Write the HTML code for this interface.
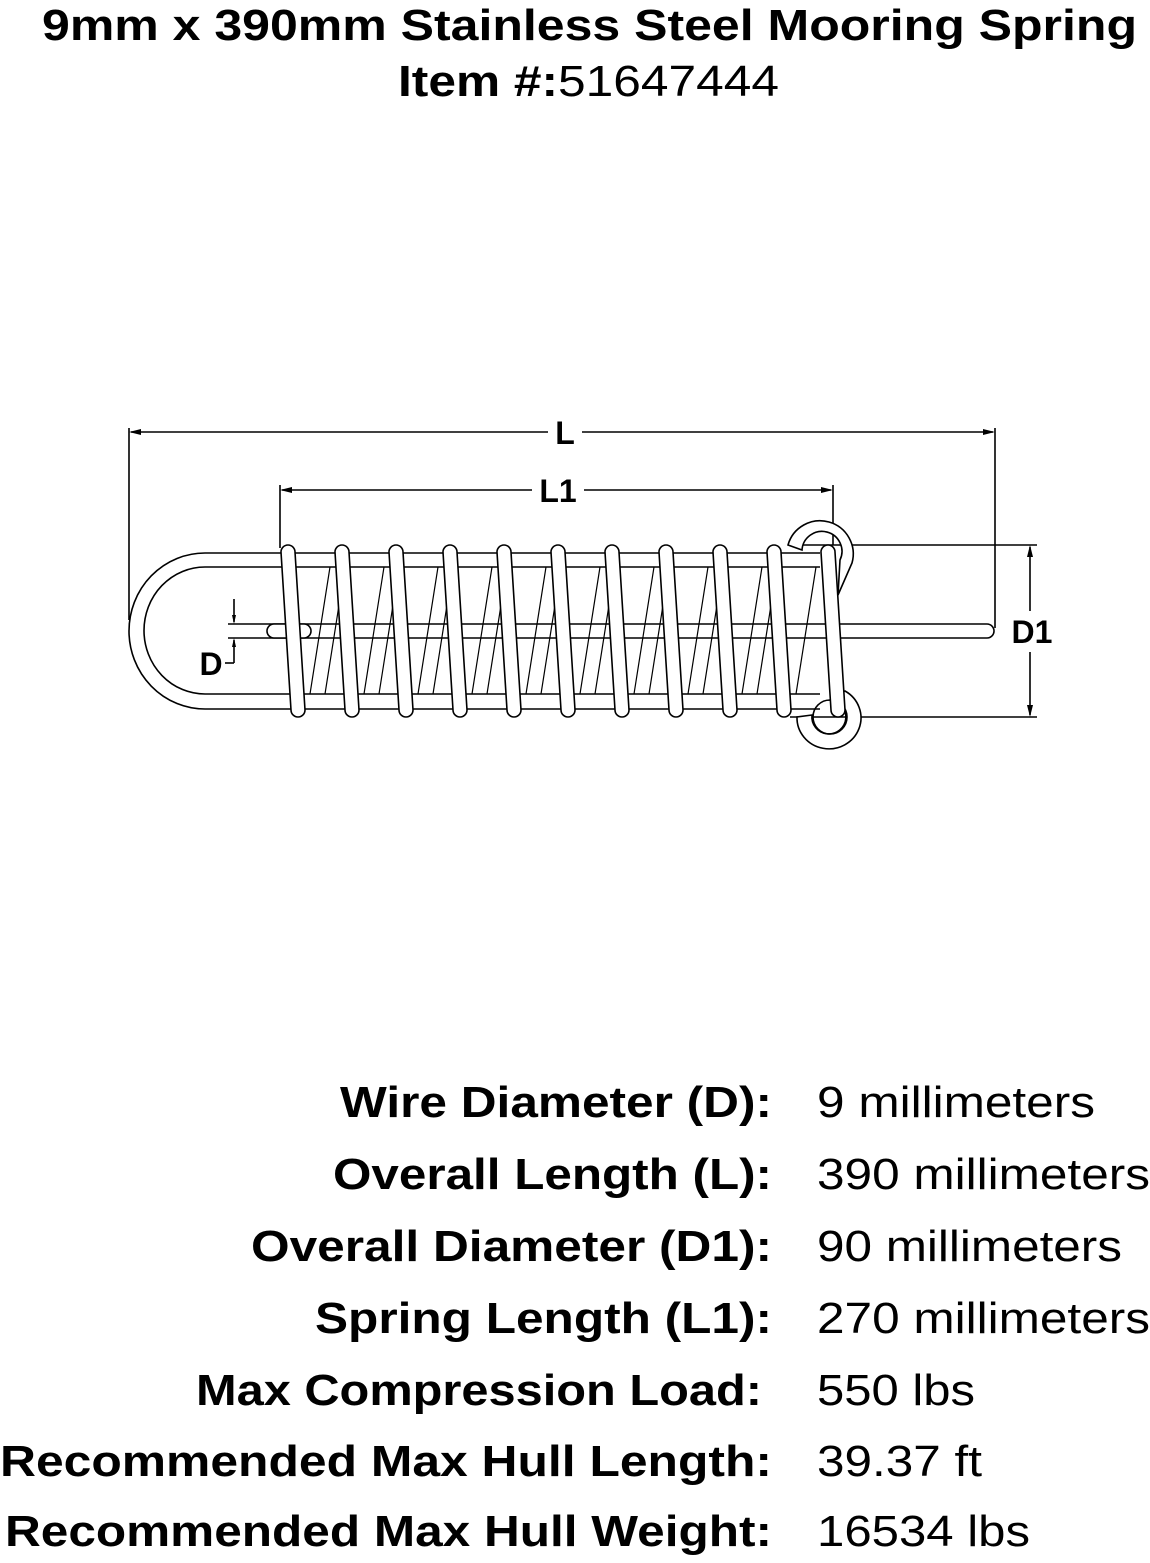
<!DOCTYPE html>
<html><head><style>html,body{margin:0;padding:0;background:#fff}svg{display:block}</style></head>
<body>
<svg width="1150" height="1563" viewBox="0 0 1150 1563" xmlns="http://www.w3.org/2000/svg" font-family="Liberation Sans, Arial, sans-serif">
<rect width="1150" height="1563" fill="#fff"/>
<text x="42" y="40" font-size="44" font-weight="bold" textLength="1095" lengthAdjust="spacingAndGlyphs">9mm x 390mm Stainless Steel Mooring Spring</text>
<text x="398" y="96" font-size="44" textLength="381" lengthAdjust="spacingAndGlyphs"><tspan font-weight="bold">Item #:</tspan>51647444</text>

<g fill="none" stroke="#000" stroke-width="1.6">
<line x1="129" y1="428" x2="129" y2="620"/>
<line x1="995" y1="428" x2="995" y2="628"/>
<line x1="131" y1="432" x2="548" y2="432"/>
<line x1="582" y1="432" x2="993" y2="432"/>
<line x1="280" y1="485" x2="280" y2="548"/>
<line x1="833" y1="485" x2="833" y2="545"/>
<line x1="282" y1="490" x2="532" y2="490"/>
<line x1="584" y1="490" x2="831" y2="490"/>
<line x1="790" y1="545" x2="1037" y2="545"/>
<line x1="790" y1="717" x2="1037" y2="717"/>
<line x1="1030" y1="547" x2="1030" y2="611"/>
<line x1="1030" y1="652" x2="1030" y2="715"/>
<line x1="228" y1="624" x2="270" y2="624"/>
<line x1="228" y1="638" x2="270" y2="638"/>
<line x1="234" y1="599" x2="234" y2="622"/>
<line x1="234" y1="640" x2="234" y2="663"/>
<line x1="225" y1="663" x2="234" y2="663"/>

<path d="M820 553 H205 A76 78 0 0 0 205 709 H820"/>
<path d="M820 567 H205 A61 63.5 0 0 0 205 694 H820"/>
<path d="M270 624 H987 A7 7 0 0 1 987 638 H270"/>
<rect x="267" y="624" width="44" height="14" rx="7" fill="#fff"/>
<g stroke-width="1.2">
<path d="M310 694 L330 567 M325 694 L345 567"/>
<path d="M364 694 L384 567 M379 694 L399 567"/>
<path d="M418 694 L438 567 M433 694 L453 567"/>
<path d="M472 694 L492 567 M487 694 L507 567"/>
<path d="M526 694 L546 567 M541 694 L561 567"/>
<path d="M580 694 L600 567 M595 694 L615 567"/>
<path d="M634 694 L654 567 M649 694 L669 567"/>
<path d="M688 694 L708 567 M703 694 L723 567"/>
<path d="M742 694 L762 567 M757 694 L777 567"/>
<path d="M796 694 L816 567"/>
</g>
<!-- top eye -->
<path d="M802 550 A20 20 0 1 1 840 560 L838 595 L852 563 A33 33 0 1 0 788 545 Z" fill="#fff"/>
<!-- bottom eye -->
<path d="M797 717 A32 31 0 1 0 845 691 L830 700 A17 17 0 1 1 812 715 Z" fill="#fff"/>
<circle cx="830" cy="717" r="17" fill="none"/>
</g>
<g fill="#fff" stroke="#000" stroke-width="1.6">
<path d="M281 552 A7 7 0 0 1 295 552 L305 710 A7 7 0 0 1 291 710 Z"/>
<path d="M335 552 A7 7 0 0 1 349 552 L359 710 A7 7 0 0 1 345 710 Z"/>
<path d="M389 552 A7 7 0 0 1 403 552 L413 710 A7 7 0 0 1 399 710 Z"/>
<path d="M443 552 A7 7 0 0 1 457 552 L467 710 A7 7 0 0 1 453 710 Z"/>
<path d="M497 552 A7 7 0 0 1 511 552 L521 710 A7 7 0 0 1 507 710 Z"/>
<path d="M551 552 A7 7 0 0 1 565 552 L575 710 A7 7 0 0 1 561 710 Z"/>
<path d="M605 552 A7 7 0 0 1 619 552 L629 710 A7 7 0 0 1 615 710 Z"/>
<path d="M659 552 A7 7 0 0 1 673 552 L683 710 A7 7 0 0 1 669 710 Z"/>
<path d="M713 552 A7 7 0 0 1 727 552 L737 710 A7 7 0 0 1 723 710 Z"/>
<path d="M767 552 A7 7 0 0 1 781 552 L791 710 A7 7 0 0 1 777 710 Z"/>
<path d="M821 552 A7 7 0 0 1 835 552 L845 710 A7 7 0 0 1 831 710 Z"/>
</g>
<g fill="#000">
<path d="M129 432 L141 429 L141 435 Z"/>
<path d="M995 432 L983 429 L983 435 Z"/>
<path d="M280 490 L292 487 L292 493 Z"/>
<path d="M833 490 L821 487 L821 493 Z"/>
<path d="M1030 545 L1027 557 L1033 557 Z"/>
<path d="M1030 717 L1027 705 L1033 705 Z"/>
<path d="M234 624 L232 615 L236 615 Z"/>
<path d="M234 638 L232 647 L236 647 Z"/>
</g>
<g font-weight="bold" font-size="32">
<text x="565" y="444" text-anchor="middle">L</text>
<text x="558" y="502" text-anchor="middle">L1</text>
<text x="1032" y="643" text-anchor="middle">D1</text>
<text x="211" y="675" text-anchor="middle">D</text>
</g>
<g font-size="44" lengthAdjust="spacingAndGlyphs">
<g font-weight="bold">
<text x="340" y="1117" textLength="432" lengthAdjust="spacingAndGlyphs">Wire Diameter (D):</text>
<text x="333" y="1189" textLength="439" lengthAdjust="spacingAndGlyphs">Overall Length (L):</text>
<text x="251" y="1261" textLength="521" lengthAdjust="spacingAndGlyphs">Overall Diameter (D1):</text>
<text x="315" y="1333" textLength="457" lengthAdjust="spacingAndGlyphs">Spring Length (L1):</text>
<text x="196" y="1405" textLength="566" lengthAdjust="spacingAndGlyphs">Max Compression Load:</text>
<text x="0" y="1476" textLength="772" lengthAdjust="spacingAndGlyphs">Recommended Max Hull Length:</text>
<text x="5" y="1546" textLength="767" lengthAdjust="spacingAndGlyphs">Recommended Max Hull Weight:</text>
</g>
<text x="817" y="1117" textLength="278" lengthAdjust="spacingAndGlyphs">9 millimeters</text>
<text x="817" y="1189" textLength="333" lengthAdjust="spacingAndGlyphs">390 millimeters</text>
<text x="817" y="1261" textLength="305" lengthAdjust="spacingAndGlyphs">90 millimeters</text>
<text x="817" y="1333" textLength="333" lengthAdjust="spacingAndGlyphs">270 millimeters</text>
<text x="817" y="1405" textLength="158" lengthAdjust="spacingAndGlyphs">550 lbs</text>
<text x="817" y="1476" textLength="165" lengthAdjust="spacingAndGlyphs">39.37 ft</text>
<text x="817" y="1546" textLength="213" lengthAdjust="spacingAndGlyphs">16534 lbs</text>
</g>
</svg>
</body></html>
